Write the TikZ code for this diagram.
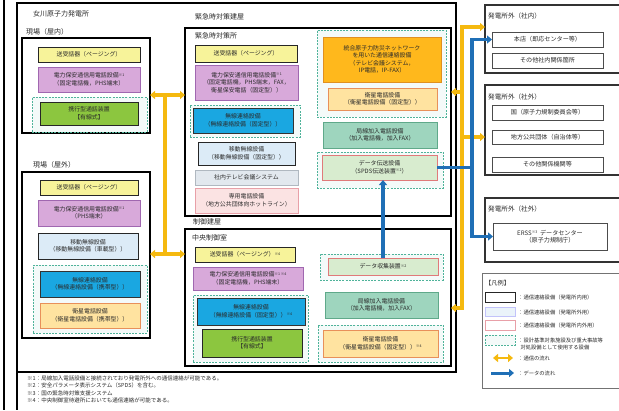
\documentclass[tikz,border=0pt]{standalone}
\usepackage{fontspec}
\setmainfont{Noto Sans CJK JP}
\usetikzlibrary{arrows.meta}
\definecolor{cY}{HTML}{F7F39A}
\definecolor{cP}{HTML}{D8A9DA}
\definecolor{cPb}{HTML}{A067B0}
\definecolor{cG}{HTML}{8CC63F}
\definecolor{cLB}{HTML}{DCEBF7}
\definecolor{cB}{HTML}{1AA7E1}
\definecolor{cO}{HTML}{FFE3A0}
\definecolor{cOb}{HTML}{E8905A}
\definecolor{cOO}{HTML}{FFB81C}
\definecolor{cOOb}{HTML}{E09020}
\definecolor{cT}{HTML}{9ED5BE}
\definecolor{cTb}{HTML}{5FA98A}
\definecolor{cD}{HTML}{D8ECCF}
\definecolor{cDb}{HTML}{E07A7A}
\definecolor{cTV}{HTML}{E2E8EE}
\definecolor{cTVb}{HTML}{B0B8C0}
\definecolor{cPk}{HTML}{FBE3E3}
\definecolor{cPkb}{HTML}{E8A0A8}
\definecolor{cDash}{HTML}{4FB39A}
\definecolor{cYel}{HTML}{F5B90F}
\definecolor{cBlu}{HTML}{1F6FB6}
\definecolor{cTxt}{HTML}{2A2A2A}
\newcommand\kome[1]{{\fontsize{3.6}{4}\selectfont\raisebox{1.6pt}{#1}}}
\newcommand\bxn[7]{\node[#1, minimum width={(#5-#3)*1pt}, minimum height={(#6-#4)*1pt}] (#2) at ({(#3+#5)/2},{(#4+#6)/2}) {#7};}
\tikzset{
  base/.style={draw, inner sep=0pt, outer sep=0pt, align=center, text=cTxt, font=\fontsize{5.9}{7.5}\selectfont, line width=0.9pt},
  frame/.style={base, draw=black, fill=white, line width=1.3pt},
  frame2/.style={base, draw=black!80, fill=white, line width=1.2pt},
  lgframe/.style={base, draw=black!55, fill=white, line width=1pt},
  dgrp/.style={base, draw=cDash, dashed, dash pattern=on 2pt off 1.2pt, fill=cDash!6, line width=0.9pt},
  ybox/.style={base, fill=cY, draw=black!85},
  pbox/.style={base, fill=cP, draw=cPb},
  gbox/.style={base, fill=cG, draw=black!85},
  lbbox/.style={base, fill=cLB, draw=black!85},
  bbox/.style={base, fill=cB, draw=black!80},
  obox/.style={base, fill=cO, draw=cOb},
  oobox/.style={base, fill=cOO, draw=cOOb},
  tbox/.style={base, fill=cT, draw=cTb},
  dbox/.style={base, fill=cD, draw=cDb},
  tvbox/.style={base, fill=cTV, draw=cTVb},
  pkbox/.style={base, fill=cPk, draw=cPkb},
  wbox/.style={base, fill=white, draw=black!70, line width=0.8pt, font=\fontsize{6.1}{7.5}\selectfont},
  lgbox1/.style={base, fill=white, draw=black!85},
  lgbox2/.style={base, fill=cLB!60, draw=cLB!80!black!30!blue!30},
  lgbox3/.style={base, fill=white, draw=cPkb},
  hdr/.style={anchor=west, inner sep=0pt, text=cTxt, font=\fontsize{7}{8}\selectfont},
  hdr2/.style={anchor=west, inner sep=0pt, text=cTxt, font=\fontsize{6.6}{8}\selectfont},
  lgt/.style={anchor=west, inner sep=0pt, text=cTxt, font=\fontsize{5.3}{6.6}\selectfont, align=left},
  fnt/.style={anchor=west, inner sep=0pt, text=cTxt, font=\fontsize{5.5}{6.5}\selectfont},
  ylw/.style={draw=cYel, line width=3.2pt},
  blu/.style={draw=cBlu, line width=3.2pt},
  tip/.tip={Triangle[width=8pt,length=5pt]}
}
\begin{document}
\begin{tikzpicture}[x=1pt,y=-1pt]
\useasboundingbox (0,0) rectangle (619,410);
\clip (0,0) rectangle (619,410);
\fill[white] (0,0) rectangle (619,410);
% page frame
\coordinate (pgt) at (4,0); \coordinate (pgb) at (4,410);
\draw[line width=1.5pt] (pgt) -- (pgb);
% Onagawa frame
\bxn{frame}{ona}{17}{3}{456}{372}{}
\coordinate (onb) at (17,410);
\draw[line width=1.3pt] (ona.south west) -- (onb);
\node[hdr] (t_ona) at (33,14) {女川原子力発電所};
% ---- field indoor
\node[hdr] (t_gin) at (26,32) {現場（屋内）};
\bxn{frame}{genin}{22}{38}{150}{133}{}
\bxn{ybox}{gi_pg}{38}{47}{140}{62}{送受話器（ページング）}
\bxn{pbox}{gi_ph}{38}{67}{140}{92}{電力保安通信用電話設備\kome{※1}\\（固定電話機，PHS端末）}
\bxn{dgrp}{gi_grp}{32}{97}{147}{132}{}
\bxn{gbox}{gi_wk}{40}{102}{138}{125}{携行型通話装置\\【有線式】}
% ---- field outdoor
\node[hdr] (t_gout) at (33,165) {現場（屋外）};
\bxn{frame}{genout}{22}{172}{150}{338}{}
\bxn{ybox}{go_pg}{40}{180}{138}{195}{送受話器（ページング）}
\bxn{pbox}{go_ph}{38}{200}{140}{226}{電力保安通信用電話設備\kome{※1}\\（PHS端末）}
\bxn{lbbox}{go_mv}{38}{233}{138}{259}{移動無線設備\\（移動無線設備（車載型））}
\bxn{dgrp}{go_grp}{33}{265}{147}{333}{}
\bxn{bbox}{go_ml}{40}{271}{140}{297}{無線連絡設備\\（無線連絡設備（携帯型））}
\bxn{obox}{go_st}{40}{303}{140}{328}{衛星電話設備\\（衛星電話設備（携帯型））}
% ---- emergency building
\node[hdr] (t_eb) at (195,17) {緊急時対策建屋};
\bxn{frame}{er}{185}{28}{451}{216}{}
\node[hdr] (t_er) at (195,36) {緊急時対策所};
\bxn{ybox}{er_pg}{195}{45}{297}{62}{送受話器（ページング）}
\bxn{pbox}{er_ph}{195}{65}{298}{100}{電力保安通信用電話設備\kome{※1}\\（固定電話機，PHS端末，FAX，\\衛星保安電話（固定型））}
\bxn{dgrp}{er_grp1}{190}{105}{300}{137}{}
\bxn{bbox}{er_ml}{193}{108}{293}{133}{無線連絡設備\\（無線連絡設備（固定型））}
\bxn{lbbox}{er_mv}{198}{142}{295}{165}{移動無線設備\\（移動無線設備（固定型））}
\bxn{tvbox}{er_tv}{195}{170}{298}{185}{社内テレビ会議システム}
\bxn{pkbox}{er_hl}{195}{188}{298}{213}{専用電話設備\\（地方公共団体向ホットライン）}
\bxn{dgrp}{er_grp2}{317}{30}{446}{117}{}
\bxn{oobox}{er_nw}{323}{37}{441}{82}{統合原子力防災ネットワーク\\を用いた通信連絡設備\\（テレビ会議システム，\\IP電話，IP-FAX）}
\bxn{obox}{er_st}{328}{88}{437}{110}{衛星電話設備\\（衛星電話設備（固定型））}
\bxn{tbox}{er_kd}{323}{122}{437}{148}{局線加入電話設備\\（加入電話機，加入FAX）}
\bxn{dgrp}{er_grp3}{317}{152}{443}{188}{}
\bxn{dbox}{er_dt}{322}{155}{437}{180}{データ伝送設備\\（SPDS伝送装置\kome{※2}）}
% ---- control building
\node[hdr] (t_cb) at (193,222) {制御建屋};
\bxn{frame}{cr}{185}{229}{451}{366}{}
\node[hdr] (t_cr) at (192,238) {中央制御室};
\bxn{ybox}{cr_pg}{195}{247}{295}{262}{送受話器（ページング）\kome{※4}}
\bxn{pbox}{cr_ph}{193}{267}{303}{290}{電力保安通信用電話設備\kome{※1 ※4}\\（固定電話機，PHS端末）}
\bxn{dgrp}{cr_grp1}{193}{295}{308}{362}{}
\bxn{bbox}{cr_ml}{197}{298}{305}{325}{無線連絡設備\\（無線連絡設備（固定型））\kome{※4}}
\bxn{gbox}{cr_wk}{202}{329}{302}{357}{携行型通話装置\\【有線式】}
\bxn{dgrp}{cr_grp2}{320}{254}{443}{280}{}
\bxn{dbox}{cr_dc}{328}{258}{438}{275}{データ収集装置\kome{※2}}
\bxn{tbox}{cr_kd}{325}{292}{438}{318}{局線加入電話設備\\（加入電話機，加入FAX）}
\bxn{dgrp}{cr_grp3}{318}{325}{443}{362}{}
\bxn{obox}{cr_st}{323}{330}{438}{357}{衛星電話設備\\（衛星電話設備（固定型））\kome{※4}}
% ---- outside
\bxn{frame2}{sn}{485}{5}{630}{73}{}
\node[hdr2] (t_sn) at (488,16) {発電所外（社内）};
\bxn{wbox}{sn1}{492}{32}{603}{47}{本店（即応センター等）}
\bxn{wbox}{sn2}{492}{53}{603}{68}{その他社内関係箇所}
\bxn{frame2}{sg}{485}{85}{630}{175}{}
\node[hdr2] (t_sg) at (488,97) {発電所外（社外）};
\bxn{wbox}{sg1}{492}{105}{603}{120}{国（原子力規制委員会等）}
\bxn{wbox}{sg2}{492}{130}{603}{144}{地方公共団体（自治体等）}
\bxn{wbox}{sg3}{492}{157}{603}{172}{その他関係機関等}
\bxn{frame2}{se}{485}{198}{630}{262}{}
\node[hdr2] (t_se) at (488,209) {発電所外（社外）};
\bxn{wbox}{se1}{493}{223}{607}{250}{ERSS\kome{※3}\ \ データセンター\\（原子力規制庁）}
% ---- legend
\bxn{lgframe}{lg}{482}{273}{630}{388}{}
\node[lgt] (lg_t) at (485,283) {\fontsize{6.2}{7}\selectfont 【凡例】};
\bxn{lgbox1}{lg1}{485}{292}{515}{302}{}
\node[lgt] (lg1t) at (518,297) {：通信連絡設備（発電所内用）};
\bxn{lgbox2}{lg2}{485}{307}{515}{316}{}
\node[lgt] (lg2t) at (518,312) {：通信連絡設備（発電所外用）};
\bxn{lgbox3}{lg3}{485}{320}{515}{330}{}
\node[lgt] (lg3t) at (518,325) {：通信連絡設備（発電所内外用）};
\bxn{dgrp}{lg4}{485}{335}{515}{345}{}
\node[lgt] (lg4t) at (518,344) {：設計基準対象施設及び重大事故等\\\ \ 対処設備として使用する設備};
\coordinate (lg5a) at (493,358); \coordinate (lg5b) at (513,358);
\draw[ylw, line width=2.6pt, {tip}-{tip}] (lg5a) -- (lg5b);
\node[lgt] (lg5t) at (518,358) {：通信の流れ};
\coordinate (lg6a) at (491,373); \coordinate (lg6b) at (514,373);
\draw[blu, line width=3pt, -{tip}] (lg6a) -- (lg6b);
\node[lgt] (lg6t) at (518,373) {：データの流れ};
% ---- footnotes
\node[fnt] (fn1) at (27,378) {※1：局線加入電話設備と接続されており発電所外への通信連絡が可能である。};
\node[fnt] (fn2) at (27,385.5) {※2：安全パラメータ表示システム（SPDS）を含む。};
\node[fnt] (fn3) at (27,393) {※3：国の緊急時対策支援システム};
\node[fnt] (fn4) at (27,400.5) {※4：中央制御室待避所においても通信連絡が可能である。};
% ---- yellow connectors (left)
\coordinate (yl1) at (165,95);
\coordinate (yl2) at (165,254);
\draw[ylw] (yl1) -- (yl2);
\draw[ylw, -{tip}] (yl1) -- (yl1 -| genin.east);
\draw[ylw, -{tip}] (yl1) -- (yl1 -| er.west);
\draw[ylw, -{tip}] (yl2) -- (yl2 -| genout.east);
\draw[ylw, -{tip}] (yl2) -- (yl2 -| cr.west);
% ---- yellow connectors (right)
\coordinate (yr1) at (462,27);
\coordinate (yr2) at (462,92);
\coordinate (yr3) at (462,137);
\coordinate (yr4) at (462,308);
\draw[ylw, {tip}-{tip}] (yr4 -| cr.east) -- (yr4) -- (yr1) -- (yr1 -| sn.west);
\draw[ylw, -{tip}] (yr2) -- (yr2 -| er.east);
\draw[ylw, -{tip}] (yr3) -- (yr3 -| sg.west);
% ---- blue connectors
\coordinate (bt) at (472,39.5);
\coordinate (bb) at (472,236.5);
\draw[blu, {tip}-{tip}] (bt -| sn1.west) -- (bt) -- (bb) -- (bb -| se1.west);
\draw[blu] (er_dt.east) -- (er_dt.east -| bt);
\draw[blu, -{tip}] (cr_dc.north) -- (cr_dc.north |- er_dt.south);
\end{tikzpicture}
\end{document}
